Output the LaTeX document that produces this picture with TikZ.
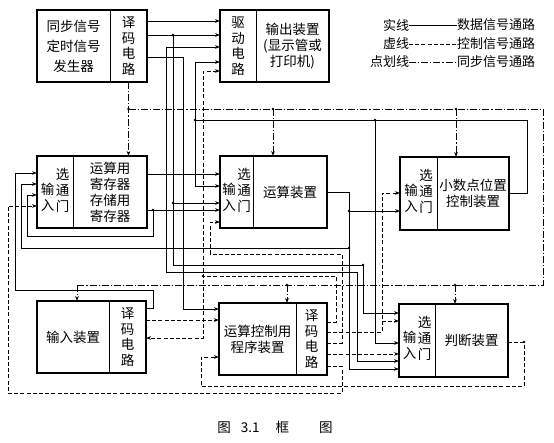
\documentclass[tikz,border=0pt]{standalone}
\usepackage{fontspec}
\setmainfont{Noto Sans CJK SC}
\usetikzlibrary{arrows.meta,positioning}
\newcommand{\selgate}{\raisebox{1pt}{\begin{tabular}[b]{@{}c@{}}输\\入\end{tabular}}\hspace{1.5pt}\begin{tabular}[b]{@{}c@{}}选\\通\\门\end{tabular}}
\begin{document}
\begin{tikzpicture}[x=1pt,y=-1pt,
  part/.style={draw,line width=0.7pt,inner sep=0pt,outer sep=0pt,align=center,
    minimum height=72pt,font={\fontsize{13.5}{16}\selectfont}},
  vtext/.style={part,font={\fontsize{13.5}{15.5}\selectfont}},
  frame/.style={line width=1.3pt},
  legend/.style={inner sep=0pt,outer sep=0pt,font={\fontsize{13}{15}\selectfont}},
  dataline/.style={line width=0.6pt},
  ctrlline/.style={line width=0.6pt,dash pattern=on 4pt off 2.2pt},
  syncline/.style={line width=0.6pt,dash pattern=on 7pt off 2pt on 1.2pt off 2pt},
  inarrow/.style={-{Stealth[length=5pt,width=3.6pt]}},
  bothtips/.style={{Stealth[length=5pt,width=3.6pt]}-{Stealth[length=5pt,width=3.6pt]}}]
\useasboundingbox (0,0) rectangle (554,442);
\def\dotr{1.3pt}

% blocks
\node[part,minimum width=73pt,font={\fontsize{13.5}{20}\selectfont}] (syncgen) at (73.5,46) {同步信号\\定时信号\\发生器};
\node[vtext,minimum width=37pt,right=0pt of syncgen] (syncdec) {译\\码\\电\\路};
\node[vtext,minimum width=36pt] (drv) at (238,46) {驱\\动\\电\\路};
\node[part,minimum width=73pt,right=0pt of drv] (outdev) {输出装置\\(显示管或\\打印机)};

\node[part,minimum width=36pt] (regsel) at (55,192) {\selgate};
\node[part,minimum width=74pt,right=0pt of regsel] (regbox) {运算用\\寄存器\\存储用\\寄存器};
\node[part,minimum width=33pt] (arisel) at (236.5,192) {\selgate};
\node[part,minimum width=74pt,right=0pt of arisel] (ari) {运算装置};
\node[part,minimum width=37pt,minimum height=73pt] (decsel) at (418.5,193.5) {\selgate};
\node[part,minimum width=72pt,minimum height=73pt,right=0pt of decsel] (decctl) {小数点位置\\控制装置};

\node[part,minimum width=72pt] (indev) at (73,337) {输入装置};
\node[vtext,minimum width=37pt,right=0pt of indev] (indec) {译\\码\\电\\路};
\node[part,minimum width=77pt] (prog) at (257.5,339) {运算控制用\\程序装置};
\node[vtext,minimum width=31pt,right=0pt of prog] (progdec) {译\\码\\电\\路};
\node[part,minimum width=36pt,minimum height=73pt] (judsel) at (417,340.5) {\selgate};
\node[part,minimum width=73pt,minimum height=73pt,right=0pt of judsel] (jud) {判断装置};

\draw[frame] (syncgen.north west) rectangle (syncdec.south east);
\draw[frame] (drv.north west) rectangle (outdev.south east);
\draw[frame] (regsel.north west) rectangle (regbox.south east);
\draw[frame] (arisel.north west) rectangle (ari.south east);
\draw[frame] (decsel.north west) rectangle (decctl.south east);
\draw[frame] (indev.north west) rectangle (indec.south east);
\draw[frame] (prog.north west) rectangle (progdec.south east);
\draw[frame] (judsel.north west) rectangle (jud.south east);

% data paths
\draw[dataline,inarrow] (syncdec.east |- 0,21) -- (drv.west |- 0,21);
\draw[dataline,inarrow] (syncdec.east |- 0,35) -- (drv.west |- 0,35);
\draw[dataline,inarrow] (173,35) -- (173,265) -- (363,265) -- (363,313) -- (judsel.west |- 0,313);
\draw[dataline,inarrow] (173,203) -- (arisel.west |- 0,203);
\draw[dataline,bothtips] (drv.west |- 0,47) -- (166,47) -- (166,272) -- (357,272) -- (357,361) -- (judsel.west |- 0,361);
\draw[dataline,inarrow] (syncdec.east |- 0,57) -- (183,57) -- (183,309) -- (prog.west |- 0,309);
\draw[dataline,inarrow] (decctl.east) -- (527,193.5) -- (527,120) -- (195,120) -- (195,62) -- (drv.west |- 0,62);
\draw[dataline,inarrow] (195,120) -- (195,186) -- (arisel.west |- 0,186);
\draw[dataline,inarrow] (375,120) -- (375,343) -- (judsel.west |- 0,343);
\draw[dataline,inarrow] (regbox.east |- 0,174) -- (arisel.west |- 0,174);
\draw[dataline,inarrow] (regbox.east |- 0,210) -- (arisel.west |- 0,210);
\draw[dataline,inarrow] (153,210) -- (153,236) -- (27,236) -- (27,195) -- (regsel.west |- 0,195);
\draw[dataline,inarrow] (ari.east) -- (349,192) -- (349,369) -- (judsel.west |- 0,369);
\draw[dataline,inarrow] (349,211) -- (decsel.west |- 0,211);
\draw[dataline,inarrow] (349,248) -- (21,248) -- (21,184) -- (regsel.west |- 0,184);
\draw[dataline,inarrow] (indec.east |- 0,308) -- (153,308) -- (153,290) -- (15,290) -- (15,173) -- (regsel.west |- 0,173);

% sync paths
\draw[syncline,inarrow] (syncdec.south) -- (syncdec.south |- regbox.north);
\draw[syncline] (128.5,109) -- (543,109) -- (543,285) -- (77,285);
\draw[syncline,inarrow] (273,109) -- (ari.north -| 273,0);
\draw[syncline,inarrow] (456,109) -- (decctl.north -| 456,0);
\draw[syncline,inarrow] (77,285) -- (indev.north -| 77,0);
\draw[syncline,inarrow] (287,285) -- (prog.north -| 287,0);
\draw[syncline,inarrow] (455,285) -- (jud.north -| 455,0);

% control paths
\draw[ctrlline,inarrow] (jud.east |- 0,342) -- (524,342) -- (524,386) -- (201,386) -- (201,357) -- (prog.west |- 0,357);
\draw[ctrlline,inarrow] (progdec.east |- 0,366) -- (342,366) -- (342,393) -- (8,393) -- (8,206) -- (regsel.west |- 0,206);
\draw[ctrlline,inarrow] (progdec.east |- 0,343) -- (342,343) -- (342,254) -- (210,254) -- (210,222) -- (arisel.west |- 0,222);
\draw[ctrlline,inarrow] (progdec.east |- 0,332) -- (382,332) -- (382,193) -- (decsel.west |- 0,193);
\draw[ctrlline,inarrow] (382,321) -- (judsel.west |- 0,321);
\draw[ctrlline,inarrow] (progdec.east |- 0,354) -- (judsel.west |- 0,354);
\draw[ctrlline] (progdec.east |- 0,322) -- (336,322) -- (336,276) -- (203,276);
\draw[ctrlline,bothtips] (drv.west |- 0,71) -- (203,71) -- (203,338) -- (indec.east |- 0,338);
\draw[ctrlline,inarrow] (indec.east |- 0,320) -- (prog.west |- 0,320);

\foreach \p in {(173,35),(173,203),(195,120),(375,120),(153,210),(349,211),(349,248),
  (128.5,109),(273,109),(456,109),(287,285),(455,285),(203,276),(524,342),(363,265)}
  \fill \p circle (\dotr);

% legend
\node[legend,anchor=east] (solidname) at (409,25) {实线};
\node[legend,anchor=west] (soliduse) at (457,25) {数据信号通路};
\draw[dataline] (solidname) -- (soliduse);
\node[legend,anchor=east] (dashname) at (409,44) {虚线};
\node[legend,anchor=west] (dashuse) at (457,44) {控制信号通路};
\draw[ctrlline] (dashname) -- (dashuse);
\node[legend,anchor=east] (dotname) at (409,62) {点划线};
\node[legend,anchor=west] (dotuse) at (457,62) {同步信号通路};
\draw[syncline] (dotname) -- (dotuse);

\node[legend,font={\fontsize{13.5}{15}\selectfont}] (caption) at (275,427) {图\hspace{10pt}3.1\hspace{16pt}框\hspace{30pt}图};
\end{tikzpicture}
\end{document}
